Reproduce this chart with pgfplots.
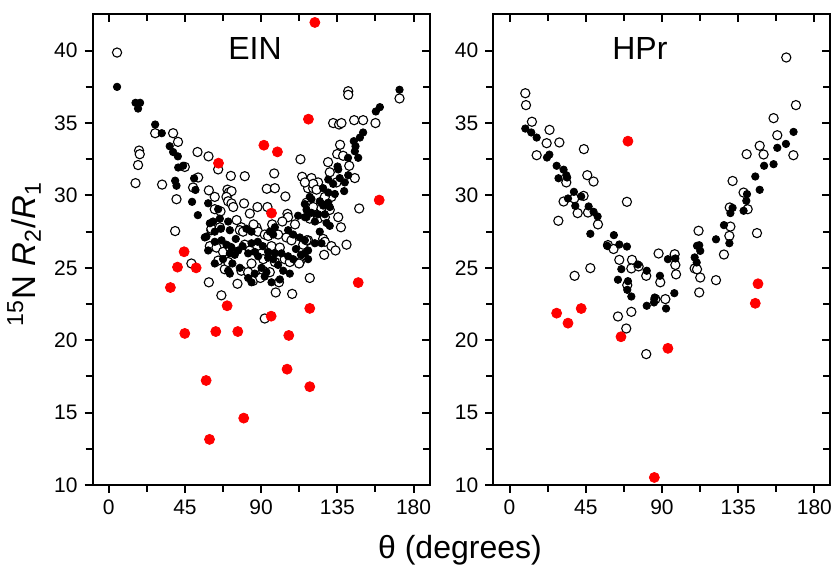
\documentclass[border=0pt]{standalone}
\usepackage{fontspec}
\setmainfont{Liberation Sans}
\usepackage{pgfplots}
\pgfplotsset{compat=1.18}

\pgfplotsset{
  panel/.style={
    scale only axis, width=168.5pt, height=235.25pt,
    xmin=-9.6, xmax=189.4, ymin=10, ymax=42.5,
    xtick={0,45,90,135,180}, ytick={10,15,20,25,30,35,40},
    minor x tick num=1, minor y tick num=1,
    major tick length=4pt, minor tick length=3.5pt,
    axis line style={line width=1pt},
    every tick/.style={line width=1pt, black},
    tick label style={font=\fontsize{10.5}{12}\selectfont},
    /pgf/number format/assume math mode=true,
    clip=false, anchor=south west,
  },
  mainax/.style={panel, xtick pos=left, ytick pos=left, tick align=outside},
  mirror/.style={panel, xtick pos=right, ytick pos=right, tick align=inside,
    xticklabels={}, yticklabels={}, axis line style={draw=none}},
  open/.style={only marks, mark=*, mark size=2.3pt,
    mark options={draw=black, fill=white, line width=0.55pt}},
  full/.style={only marks, mark=*, mark size=1.85pt, color=black},
  redpt/.style={only marks, mark=*, mark size=2.5pt, color=red},
}

\begin{document}
\begin{tikzpicture}
\path[use as bounding box] (0,0) rectangle (417pt,285.5pt);

% ---------------- EIN ----------------
\begin{axis}[mainax, at={(46.25pt,43pt)}]
\addplot[open] coordinates {
(4.9,39.87) (27.4,34.3) (38.0,34.3) (40.9,33.7) (17.9,33.1) (18.3,32.85)
(17.3,32.1) (52.4,33.0) (58.9,32.7) (113.2,32.5) (129.5,32.3) (132.5,35.0)
(136.0,34.9) (137.4,35.0) (141.4,37.2) (141.4,36.95) (144.9,35.2) (150.2,35.2)
(157.5,35.0) (171.7,36.7) (136.6,33.5) (134.9,32.86) (138.4,32.74) (142.0,32.05)
(145.3,31.2)
(44.9,31.97) (15.8,30.85) (31.5,30.75) (40.0,29.74) (39.2,27.54) (52.8,31.24)
(49.8,30.55) (59.1,30.35) (60.6,27.6) (60.2,26.45) (48.8,25.3) (59.1,24.0)
(64.6,31.8) (72.1,31.35) (80.3,31.33) (97.7,31.52) (114.2,31.29) (119.7,31.2)
(70.1,30.4) (70.9,30.2) (72.5,30.3) (93.3,30.46) (98.1,30.5) (104.3,29.93)
(117.7,30.5) (120.7,30.5) (62.6,29.9) (69.5,29.9) (70.5,29.6) (72.5,29.45)
(73.5,29.2) (79.9,29.45) (62.6,29.05) (83.3,28.75) (93.7,29.2) (87.8,29.2)
(117.7,29.1) (105.5,28.73) (105.9,28.5) (60.6,27.7) (65.6,27.8) (78.3,27.8)
(77.4,27.6) (79.3,27.5) (87.2,27.8) (88.2,27.5) (92.1,27.3) (94.1,27.2)
(100.0,27.3) (104.9,27.1) (107.9,26.9) (114.8,26.6) (117.7,26.9) (59.7,26.5)
(63.6,26.4) (67.5,26.1) (71.5,26.4) (80.3,26.6) (83.3,26.2) (90.2,26.0)
(96.1,26.5) (101.0,26.4) (91.2,25.6) (98.1,25.4) (103.9,25.6) (112.8,25.4)
(106.9,25.4) (64.6,25.5) (68.5,24.9) (78.3,24.8) (84.3,25.3) (70.5,25.4)
(82.3,24.7) (91.2,24.8) (95.1,24.7) (85.2,24.1) (118.7,24.3) (66.5,23.1)
(98.6,23.3) (108.3,23.2) (92.1,21.5)
(130.5,31.6) (134.5,30.9) (123.6,30.9) (120.7,30.8) (115.8,30.9) (122.7,30.4)
(131.5,29.9) (127.6,29.9) (116.8,29.5) (120.7,29.2) (125.6,29.1) (130.5,29.0)
(118.7,28.4) (123.6,28.4) (127.6,28.5) (135.5,28.5) (137.1,27.8) (147.9,29.1)
(116.8,26.9) (126.6,27.0) (127.6,26.8) (131.5,26.5) (133.9,26.2) (140.4,26.6)
(127.2,25.9) (112.4,25.3)
(75.5,28.3) (85.5,28.0) (96.5,28.0) (102.5,28.2) (110.0,28.0) (89.5,24.3)
(100.5,24.0) (66.0,28.9) (76.0,23.9)
};
\addplot[full] coordinates {
(4.9,37.5) (15.8,36.4) (18.5,36.4) (17.3,36.0) (27.4,34.9) (31.3,34.3)
(36.0,33.4) (38.0,33.0) (40.8,32.7) (171.7,37.3) (157.7,35.8) (160.1,36.1)
(150.2,34.35) (148.3,34.0) (144.7,33.75) (145.7,33.4) (145.3,33.05) (141.3,32.6)
(147.3,32.6) (135.1,32.0)
(41.0,31.93) (43.9,32.05) (39.2,31.02) (40.0,30.67) (49.2,29.56) (52.6,28.64)
(50.4,31.18) (51.2,30.38) (58.7,29.46) (59.7,28.08) (57.7,27.16)
(119.7,29.75) (64.6,29.05) (115.8,29.4) (111.8,28.6) (116.8,28.5) (61.6,28.2)
(65.6,28.4) (66.2,27.7) (62.6,27.5) (70.5,28.2) (71.5,27.6) (81.3,27.7)
(84.3,27.5) (95.1,27.5) (97.1,27.3) (98.1,27.8) (105.9,27.6) (108.9,27.3)
(112.8,27.1) (115.8,26.9) (56.7,27.1) (62.6,26.8) (58.7,26.2) (66.6,26.9)
(69.5,26.6) (72.5,26.4) (76.4,26.2) (74.4,25.9) (71.5,26.0) (82.3,26.0)
(86.2,26.1) (88.2,25.8) (84.3,26.7) (94.1,26.1) (98.1,26.0) (94.1,25.7)
(97.1,25.6) (102.0,26.0) (105.9,25.8) (108.9,25.6) (115.8,26.0) (117.7,25.6)
(62.6,25.3) (70.5,24.8) (77.4,25.0) (71.5,24.6) (82.3,24.3) (84.3,24.0)
(86.2,24.6) (92.1,24.4) (96.1,24.0) (101.0,24.2) (93.1,24.7) (90.2,25.0)
(106.9,24.6)
(135.5,31.8) (141.4,31.4) (139.4,30.9) (129.6,31.1) (136.4,31.2) (132.5,30.8)
(126.6,30.5) (129.6,30.2) (133.5,30.1) (139.0,30.3) (118.7,29.9) (124.6,29.6)
(129.6,29.5) (126.6,29.3) (130.5,29.2) (116.8,29.0) (119.7,28.8) (123.6,28.7)
(127.6,28.7) (115.8,28.5) (121.7,28.2) (128.6,28.1) (124.6,27.5) (117.7,26.2)
(121.7,26.7) (125.6,26.7) (130.5,27.9)
(75.0,27.0) (79.0,26.5) (88.0,26.8) (91.0,26.5) (100.0,25.2) (103.0,24.8)
(110.5,26.3) (113.5,25.9) (67.5,25.6) (73.0,25.3)
};
\addplot[redpt] coordinates {
(121.7,41.95) (117.9,35.27) (91.6,33.47) (99.6,33.01) (64.8,32.23) (96.1,28.78)
(159.7,29.68) (44.5,26.11) (40.6,25.05) (51.6,25.0) (36.4,23.64) (147.3,23.98)
(69.9,22.38) (118.7,22.2) (95.9,21.66) (44.9,20.47) (63.2,20.6) (76.2,20.6)
(106.3,20.33) (105.3,18.0) (57.5,17.22) (118.7,16.79) (79.7,14.62) (59.5,13.15)
};
\node[font=\fontsize{16}{19}\selectfont] at (rel axis cs:0.482,0.927) {EIN};
\end{axis}
\begin{axis}[mirror, at={(46.25pt,43pt)}]
\end{axis}

% ---------------- HPr ----------------
\begin{axis}[mainax, at={(246.65pt,43pt)}]
\addplot[open] coordinates {
(9.3,37.06) (9.7,36.24) (13.2,35.09) (23.6,34.53) (21.9,33.61) (29.4,33.66)
(16.0,32.78) (43.9,33.20) (45.9,31.40) (49.6,30.96) (33.5,30.9) (31.9,29.58)
(43.7,29.97) (38.2,29.79) (40.2,28.78) (46.3,28.82) (28.8,28.25) (52.2,28.0)
(69.3,29.56) (58.1,26.57) (61.4,26.3) (64.8,25.55) (72.3,25.55) (71.9,24.96)
(76.2,25.1) (47.7,24.98) (38.4,24.45) (69.5,23.81) (80.7,24.45) (89.0,24.0)
(88.0,25.99) (97.5,25.94) (97.9,25.2) (98.3,24.55) (92.0,22.84) (86.1,22.84)
(64.0,21.64) (71.9,21.96) (68.9,20.81) (80.7,19.04) (111.6,27.56) (109.3,24.96)
(110.7,24.9) (112.6,24.33) (112.0,23.30) (121.9,24.15) (126.6,25.92) (129.8,27.21)
(130.4,27.85) (130.0,29.17) (131.7,31.0) (138.2,30.2) (140.6,29.05) (140.0,32.85)
(147.7,33.43) (150.0,32.83) (146.1,27.40) (155.9,35.34) (158.1,34.16) (167.6,32.78)
(169.1,36.24) (163.4,39.53)
};
\addplot[full] coordinates {
(9.3,34.62) (12.8,34.35) (16.0,34.0) (22.1,32.62) (23.5,32.82) (27.8,32.05)
(31.9,31.78) (33.5,31.40) (28.9,31.19) (34.0,31.24) (38.0,30.25) (34.5,29.79)
(42.3,29.93) (38.8,29.28) (46.7,29.24) (49.6,28.87) (52.0,28.55) (47.7,27.35)
(61.6,27.26) (57.7,26.52) (64.8,26.61) (69.3,26.47) (66.0,24.91) (64.0,24.18)
(69.9,24.08) (69.5,23.48) (71.9,23.02) (75.8,25.23) (81.0,24.80) (88.8,24.45)
(81.0,22.38) (85.7,22.95) (85.3,22.61) (92.4,22.19) (93.5,25.6) (97.9,25.65)
(97.3,23.25) (109.3,25.72) (110.7,26.52) (112.6,26.17) (112.0,26.56) (110.5,25.37)
(121.9,26.97) (126.6,27.95) (129.8,26.7) (130.4,28.78) (131.7,29.14) (140.2,30.09)
(139.8,29.63) (138.2,28.94) (145.1,31.31) (147.7,30.39) (150.3,32.05) (155.9,32.16)
(158.1,33.29) (163.2,33.56) (167.7,34.39)
};
\addplot[redpt] coordinates {
(69.9,33.75) (27.8,21.87) (34.5,21.18) (42.3,22.19) (65.8,20.24) (93.5,19.44)
(146.7,23.9) (145.1,22.55) (85.5,10.52)
};
\node[font=\fontsize{16}{19}\selectfont] at (rel axis cs:0.435,0.927) {HPr};
\end{axis}
\begin{axis}[mirror, at={(246.65pt,43pt)}]
\end{axis}

\node[rotate=90, font=\fontsize{16.5}{19}\selectfont] at (12pt,158.5pt)
  {\textsuperscript{15}N \textit{R}\textsubscript{2}/\textit{R}\textsubscript{1}};
\node[font=\fontsize{16}{19}\selectfont] at (230pt,10.5pt) {θ (degrees)};
\end{tikzpicture}
\end{document}
